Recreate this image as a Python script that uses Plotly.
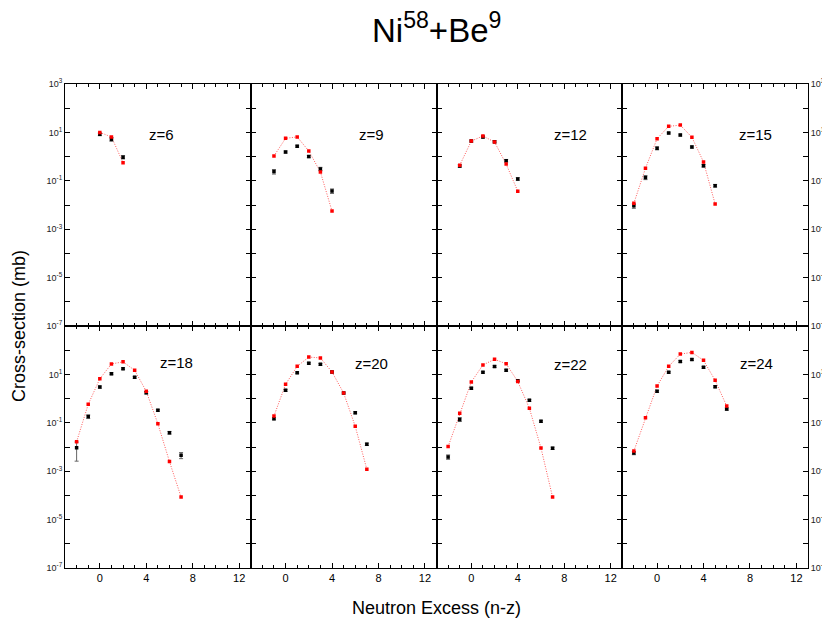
import plotly.graph_objects as go
from plotly.subplots import make_subplots

# charge of each panel, in reading order
Z_LABELS = ["z=6", "z=9", "z=12", "z=15", "z=18", "z=20", "z=22", "z=24"]

# model (red) and measured (black) cross-sections, mb, vs neutron excess n-z
MODEL_X_Z6 = [0, 1, 2]
MODEL_Y_Z6 = [10, 6.5, 0.56]
DATA_X_Z6 = [0, 1, 2]
DATA_Y_Z6 = [8.3, 5.2, 0.95]
DATA_E_Z6 = [1.0, 0.9, 0.15]

MODEL_X_Z9 = [-1, 0, 1, 2, 3, 4]
MODEL_Y_Z9 = [1.06, 5.7, 6.5, 1.7, 0.23, 0.0056]
DATA_X_Z9 = [-1, 0, 1, 2, 3, 4]
DATA_Y_Z9 = [0.24, 1.55, 2.7, 1.0, 0.31, 0.038]
DATA_E_Z9 = [0.05, 0.15, 0.25, 0.1, 0.05, 0.008]

MODEL_X_Z12 = [-1, 0, 1, 2, 3, 4]
MODEL_Y_Z12 = [0.44, 4.4, 7.1, 4.0, 0.49, 0.037]
DATA_X_Z12 = [-1, 0, 1, 2, 3, 4]
DATA_Y_Z12 = [0.41, 4.4, 6.4, 4.1, 0.68, 0.12]
DATA_E_Z12 = [0.05, 0.4, 0.6, 0.4, 0.08, 0.015]

MODEL_X_Z15 = [-2, -1, 0, 1, 2, 3, 4, 5]
MODEL_Y_Z15 = [0.0118, 0.33, 5.5, 17.8, 20, 6.3, 0.6, 0.011]
DATA_X_Z15 = [-2, -1, 0, 1, 2, 3, 4, 5]
DATA_Y_Z15 = [0.0093, 0.137, 2.2, 9.4, 7.8, 2.5, 0.42, 0.063]
DATA_E_Z15 = [0.002, 0.025, 0.3, 0.8, 0.7, 0.25, 0.05, 0.008]

MODEL_X_Z18 = [-2, -1, 0, 1, 2, 3, 4, 5, 6, 7]
MODEL_Y_Z18 = [0.0165, 0.58, 6.6, 27, 33, 14.8, 2.0, 0.091, 0.0025, 8.5e-5]
DATA_X_Z18 = [-2, -1, 0, 1, 2, 3, 4, 5, 6, 7]
DATA_Y_Z18 = [0.0093, 0.18, 3.0, 10.7, 17.3, 7.6, 1.76, 0.33, 0.039, 0.0046]
DATA_E_Z18 = [0.0067, 0.03, 0.3, 1.0, 1.5, 0.7, 0.2, 0.03, 0.005, 0.0013]

MODEL_X_Z20 = [-1, 0, 1, 2, 3, 4, 5, 6, 7]
MODEL_Y_Z20 = [0.19, 3.9, 21.6, 52, 48, 12.6, 1.7, 0.072, 0.0012]
DATA_X_Z20 = [-1, 0, 1, 2, 3, 4, 5, 6, 7]
DATA_Y_Z20 = [0.148, 2.2, 11.7, 29, 26, 12.6, 1.7, 0.26, 0.013]
DATA_E_Z20 = [0.015, 0.2, 1.0, 2.5, 2.3, 1.1, 0.15, 0.025, 0.0015]

MODEL_X_Z22 = [-2, -1, 0, 1, 2, 3, 4, 5, 6, 7]
MODEL_Y_Z22 = [0.0104, 0.25, 4.9, 24.6, 42, 27.5, 5.1, 0.4, 0.0091, 8.5e-5]
DATA_X_Z22 = [-2, -1, 0, 1, 2, 3, 4, 5, 6, 7]
DATA_Y_Z22 = [0.0039, 0.138, 2.7, 12.3, 21, 14.8, 5.5, 0.85, 0.115, 0.0089]
DATA_E_Z22 = [0.0008, 0.025, 0.25, 1.0, 1.8, 1.3, 0.5, 0.08, 0.011, 0.001]

MODEL_X_Z24 = [-2, -1, 0, 1, 2, 3, 4, 5, 6]
MODEL_Y_Z24 = [0.0068, 0.16, 3.3, 21.5, 69, 81, 38, 5.7, 0.49]
DATA_X_Z24 = [-2, 0, 1, 2, 3, 4, 5, 6]
DATA_Y_Z24 = [0.0056, 2.0, 12.3, 34, 41, 19.6, 3.1, 0.37]
DATA_E_Z24 = [0.0008, 0.2, 1.0, 3.0, 3.5, 1.7, 0.3, 0.04]

# where each "z=" label sits: (n-z, log10 sigma)
LABEL_X = [5.3, 7.4, 8.5, 8.5, 6.6, 7.4, 8.5, 8.6]
LABEL_Y = [0.93, 0.93, 0.93, 0.93, 1.5, 1.45, 1.4, 1.45]

EXPONENTS = list(range(-7, 4))
Y_TICKS = [10.0 ** e for e in EXPONENTS]
Y_TEXT_TOP = [f"10<sup>{e}</sup>" if e % 2 else "" for e in EXPONENTS]
# lower row: the 10^3 label would sit on the upper row's 10^-7
Y_TEXT_BOTTOM = [t if e != 3 else "" for e, t in zip(EXPONENTS, Y_TEXT_TOP)]

panels = [
    (MODEL_X_Z6, MODEL_Y_Z6, DATA_X_Z6, DATA_Y_Z6, DATA_E_Z6),
    (MODEL_X_Z9, MODEL_Y_Z9, DATA_X_Z9, DATA_Y_Z9, DATA_E_Z9),
    (MODEL_X_Z12, MODEL_Y_Z12, DATA_X_Z12, DATA_Y_Z12, DATA_E_Z12),
    (MODEL_X_Z15, MODEL_Y_Z15, DATA_X_Z15, DATA_Y_Z15, DATA_E_Z15),
    (MODEL_X_Z18, MODEL_Y_Z18, DATA_X_Z18, DATA_Y_Z18, DATA_E_Z18),
    (MODEL_X_Z20, MODEL_Y_Z20, DATA_X_Z20, DATA_Y_Z20, DATA_E_Z20),
    (MODEL_X_Z22, MODEL_Y_Z22, DATA_X_Z22, DATA_Y_Z22, DATA_E_Z22),
    (MODEL_X_Z24, MODEL_Y_Z24, DATA_X_Z24, DATA_Y_Z24, DATA_E_Z24),
]

fig = make_subplots(rows=2, cols=4, horizontal_spacing=0, vertical_spacing=0)

for i, (mx, my, dx, dy, de) in enumerate(panels):
    row, col = i // 4 + 1, i % 4 + 1
    fig.add_trace(go.Scatter(
        x=mx, y=my, mode="lines",
        line={"color": "#ff5a5a", "width": 1, "dash": "1px,1.5px"},
        showlegend=False, hoverinfo="skip",
    ), row=row, col=col)
    fig.add_trace(go.Scatter(
        x=dx, y=dy, mode="markers",
        marker={"symbol": "square", "size": 3.5, "color": "black"},
        error_y={"type": "data", "array": de, "color": "#666666", "thickness": 1, "width": 2},
        showlegend=False, hoverinfo="skip",
    ), row=row, col=col)
    fig.add_trace(go.Scatter(
        x=mx, y=my, mode="markers",
        marker={"symbol": "square", "size": 3.5, "color": "#ff0000"},
        showlegend=False, hoverinfo="skip",
    ), row=row, col=col)
    suffix = "" if i == 0 else str(i + 1)
    fig.add_annotation(
        x=LABEL_X[i], y=LABEL_Y[i], xref=f"x{suffix}", yref=f"y{suffix}",
        text=Z_LABELS[i], showarrow=False, font={"size": 15, "color": "black"},
    )

axis_font = {"size": 11, "color": "black"}
for i in range(8):
    row, col = i // 4 + 1, i % 4 + 1
    fig.update_xaxes(
        range=[-3, 13], tick0=0, dtick=4, ticks="inside", ticklen=5,
        minor={"dtick": 1, "ticks": "inside", "ticklen": 3, "tickcolor": "black"},
        showline=True, linecolor="black", linewidth=1, mirror="ticks",
        showgrid=False, zeroline=False, showticklabels=(row == 2),
        tickfont=axis_font, tickcolor="black", row=row, col=col,
    )
    fig.update_yaxes(
        type="log", range=[-7, 3], tickvals=Y_TICKS,
        ticktext=(Y_TEXT_TOP if row == 1 else Y_TEXT_BOTTOM),
        ticks="inside", ticklen=5, tickcolor="black",
        showline=True, linecolor="black", linewidth=1, mirror="ticks",
        showgrid=False, zeroline=False, automargin=False,
        showticklabels=(col in (1, 4)), side=("right" if col == 4 else "left"),
        tickfont={"size": 9, "color": "#222222"}, row=row, col=col,
    )

fig.add_annotation(
    x=0.5, y=1.0, xref="paper", yref="paper", yshift=56, yanchor="middle",
    text="Ni<sup>58</sup>+Be<sup>9</sup>", showarrow=False,
    font={"size": 33, "color": "black"},
)
fig.add_annotation(
    x=0.5, y=0, xref="paper", yref="paper", yshift=-40, yanchor="middle",
    text="Neutron Excess (n-z)", showarrow=False, font={"size": 18, "color": "black"},
)
fig.add_annotation(
    x=0, y=0.5, xref="paper", yref="paper", xshift=-46, xanchor="center",
    yanchor="middle", textangle=-90,
    text="Cross-section (mb)", showarrow=False, font={"size": 18, "color": "black"},
)

# the page body adds an 8 px offset, so the figure is 8 px smaller each way
fig.update_layout(
    width=822, height=615,
    margin={"l": 57, "r": 22, "t": 76, "b": 55},
    paper_bgcolor="white", plot_bgcolor="white",
    font={"family": "Liberation Sans, Arial, sans-serif", "color": "black"},
)

fig.write_html("out.html")
